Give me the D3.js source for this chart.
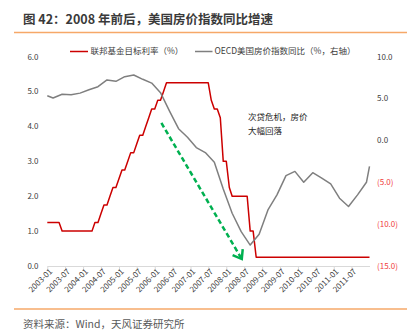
<!DOCTYPE html>
<html>
<head>
<meta charset="utf-8">
<script src="https://cdn.jsdelivr.net/npm/d3@7"></script>
<style>
  html, body { margin: 0; padding: 0; background: #fff; }
  svg { display: block; font-family: "Noto Sans CJK SC", "Noto Sans", sans-serif; }
</style>
</head>
<body>
<svg id="chart" width="413" height="334"></svg>
<script>
// Fed funds target rate, monthly, 2003-01 .. 2012-01 (%)
const fedRate = [
  1.25, 1.25, 1.25, 1.25, 1.25,
  1.0, 1.0, 1.0, 1.0, 1.0, 1.0, 1.0, 1.0, 1.0, 1.0, 1.0,
  1.25, 1.25, 1.5, 1.75, 1.75, 2.0, 2.25, 2.25, 2.5, 2.75, 2.75, 3.0, 3.25,
  3.25, 3.5, 3.75, 3.75, 4.0, 4.25, 4.5, 4.5, 4.75, 4.75, 5.0, 5.25,
  5.25, 5.25, 5.25, 5.25, 5.25, 5.25, 5.25, 5.25, 5.25, 5.25, 5.25, 5.25, 5.25, 5.25,
  4.75, 4.5, 4.5, 4.25, 3.0, 3.0, 2.25, 2.0, 2.0, 2.0, 2.0, 2.0, 2.0, 1.0, 1.0, 0.25,
  0.25, 0.25, 0.25, 0.25, 0.25, 0.25, 0.25, 0.25, 0.25, 0.25, 0.25, 0.25, 0.25,
  0.25, 0.25, 0.25, 0.25, 0.25, 0.25, 0.25, 0.25, 0.25, 0.25, 0.25, 0.25, 0.25,
  0.25, 0.25, 0.25, 0.25, 0.25, 0.25, 0.25, 0.25, 0.25, 0.25, 0.25, 0.25
];
const fedDates = d3.timeMonth.range(new Date(2003, 0, 1), new Date(2012, 0, 2));

// OECD US house price index, YoY (%), quarterly (plotted mid-quarter) plus end points
const hpiYoY = [
  5.34, 5.07, 5.51, 5.45, 5.65, 6.05, 6.42, 7.22, 7.06, 7.61,
  7.81, 7.3, 6.85, 5.7, 3.5, 1.4, 0.38, -0.85, -1.45, -2.6,
  -5.8, -8.7, -10.9, -12.5, -11.2, -8.3, -6.5, -4.2, -3.7, -5.0,
  -3.85, -4.5, -5.2, -6.9, -7.9, -6.5, -5.0, -3.1
];
const hpiDates = [new Date(2003, 0, 1)]
  .concat(d3.timeMonth.range(new Date(2003, 1, 15), new Date(2012, 0, 1), 3))
  .concat([new Date(2012, 0, 1)]);

// Axis ticks
const leftTicks = [0, 1, 2, 3, 4, 5, 6];
const rightTicks = [10, 5, 0, -5, -10, -15];
const xTickDates = d3.timeMonth.range(new Date(2003, 0, 1), new Date(2011, 7, 1), 6);

// Texts
const titleText = "图 42：2008 年前后，美国房价指数同比增速";
const sourceText = "资料来源：Wind，天风证券研究所";
const legendRate = "联邦基金目标利率（%）";
const legendHpi = "OECD美国房价指数同比（%，右轴）";
const noteLines = ["次贷危机，房价", "大幅回落"];
// Annotation arrow anchors (date, left-axis value)
const arrowFrom = [new Date(2006, 2, 10), 4.1];
const arrowTo = [new Date(2008, 5, 7), 0.2];

const svg = d3.select("#chart");

const x = d3.scaleTime()
  .domain([new Date(2003, 0, 1), new Date(2012, 0, 1)])
  .range([47.3, 369.5]);
const yL = d3.scaleLinear().domain([0, 6]).range([266, 56.7]);
const yR = d3.scaleLinear().domain([-15, 10]).range([266, 56.7]);

// Title and rules
svg.append("text")
  .attr("x", 23).attr("y", 23.5)
  .attr("font-size", 12.5).attr("font-weight", "bold").attr("fill", "#3a3a3a")
  .text(titleText);
svg.append("line").attr("x1", 14).attr("x2", 407).attr("y1", 32.5).attr("y2", 32.5)
  .attr("stroke", "#F6A868").attr("stroke-width", 1.5);
svg.append("line").attr("x1", 14).attr("x2", 407).attr("y1", 309).attr("y2", 309)
  .attr("stroke", "#F6A868").attr("stroke-width", 1.5);
svg.append("text")
  .attr("x", 23).attr("y", 327.5)
  .attr("font-size", 10.5).attr("fill", "#595959")
  .text(sourceText);

// Left axis labels
svg.append("g").selectAll("text").data(leftTicks).join("text")
  .attr("x", 38.5).attr("y", d => yL(d))
  .attr("dy", "0.35em").attr("text-anchor", "end")
  .attr("font-size", 8).attr("fill", "#404040")
  .text(d => d.toFixed(1));

// Right axis labels (negatives in parentheses, red)
svg.append("g").selectAll("text").data(rightTicks).join("text")
  .attr("x", 377).attr("y", d => yR(d))
  .attr("dy", "0.35em").attr("text-anchor", "start")
  .attr("font-size", 8).attr("fill", d => d < 0 ? "#F03C3C" : "#404040")
  .text(d => d < 0 ? "(" + Math.abs(d).toFixed(1) + ")" : d.toFixed(1));

// Bottom axis
const xAxis = d3.axisBottom(x)
  .tickValues(xTickDates)
  .tickSize(4)
  .tickSizeOuter(0)
  .tickFormat(d3.timeFormat("%Y-%m"));
const gx = svg.append("g").attr("transform", "translate(0,266)").call(xAxis);
gx.select(".domain").attr("stroke", "#d9d9d9");
gx.selectAll(".tick line").attr("stroke", "#d9d9d9");
gx.selectAll(".tick text")
  .attr("font-size", 8).attr("fill", "#404040")
  .attr("font-family", "\"Noto Sans CJK SC\", sans-serif")
  .attr("text-anchor", "end")
  .attr("transform", "translate(3,4) rotate(-45)")
  .attr("x", 0).attr("y", 0).attr("dy", "0.35em");

// Series
const rateLine = d3.line().x((d, i) => x(fedDates[i])).y(d => yL(d));
svg.append("path").datum(fedRate)
  .attr("d", rateLine).attr("fill", "none")
  .attr("stroke", "#CC0000").attr("stroke-width", 1.5).attr("stroke-linejoin", "round");

const hpiLine = d3.line().x((d, i) => x(hpiDates[i])).y(d => yR(d));
svg.append("path").datum(hpiYoY)
  .attr("d", hpiLine).attr("fill", "none")
  .attr("stroke", "#7F7F7F").attr("stroke-width", 1.5).attr("stroke-linejoin", "round");

// Legend
const legend = svg.append("g").attr("font-size", 8.5).attr("fill", "#404040");
legend.append("line").attr("x1", 70).attr("x2", 88).attr("y1", 51.5).attr("y2", 51.5)
  .attr("stroke", "#CC0000").attr("stroke-width", 1.5);
legend.append("text").attr("x", 90.5).attr("y", 51.5).attr("dy", "0.35em").text(legendRate);
legend.append("line").attr("x1", 195).attr("x2", 212.5).attr("y1", 51.5).attr("y2", 51.5)
  .attr("stroke", "#7F7F7F").attr("stroke-width", 1.5);
legend.append("text").attr("x", 214.5).attr("y", 51.5).attr("dy", "0.35em").text(legendHpi);

// Annotation
svg.append("g").selectAll("text").data(noteLines).join("text")
  .attr("x", 248).attr("y", (d, i) => 117 + i * 14)
  .attr("dy", "0.35em").attr("font-size", 8.5).attr("fill", "#262626")
  .text(d => d);

const ax0 = x(arrowFrom[0]), ay0 = yL(arrowFrom[1]);
const ax1 = x(arrowTo[0]), ay1 = yL(arrowTo[1]);
svg.append("line")
  .attr("x1", ax0).attr("y1", ay0).attr("x2", ax1).attr("y2", ay1)
  .attr("stroke", "#00B050").attr("stroke-width", 2.5).attr("stroke-dasharray", "5,3");
const ang = Math.atan2(ay1 - ay0, ax1 - ax0);
const headLen = 10, spread = Math.PI / 5;
const hx1 = ax1 - headLen * Math.cos(ang - spread), hy1 = ay1 - headLen * Math.sin(ang - spread);
const hx2 = ax1 - headLen * Math.cos(ang + spread), hy2 = ay1 - headLen * Math.sin(ang + spread);
svg.append("path")
  .attr("d", `M${hx1},${hy1}L${ax1},${ay1}L${hx2},${hy2}`)
  .attr("fill", "none").attr("stroke", "#00B050").attr("stroke-width", 2.5)
  .attr("stroke-linejoin", "miter");
</script>
</body>
</html>
